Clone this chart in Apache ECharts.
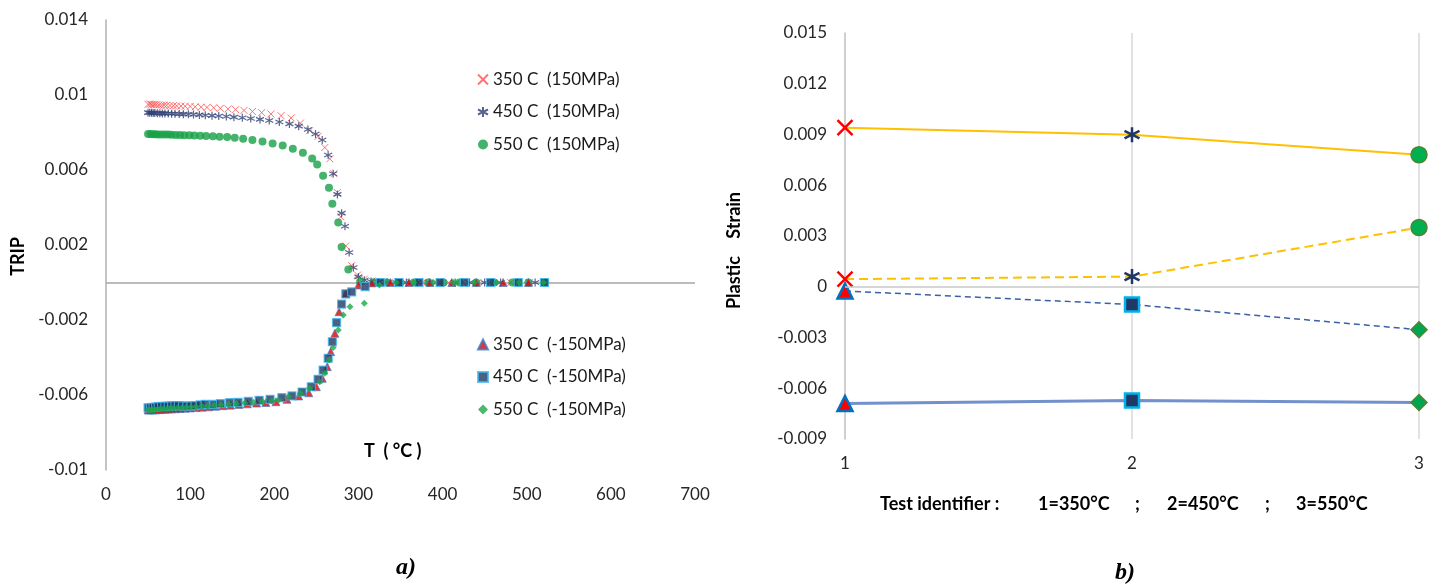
<!DOCTYPE html>
<html lang="en">
<head>
    <meta charset="utf-8"/>
    <script src="https://cdn.jsdelivr.net/npm/echarts@6/dist/echarts.min.js"></script>
</head>
<body style="margin: 0; background: #fff">
<div id="container" style="width: 1434px; height: 586px;"></div>
<script type="text/javascript">
    // ---- a) TRIP vs temperature ----
    var xTicksA = [0, 700, 100];          // min, max, step
    var yTicksA = [-0.01, 0.014, 0.004];

    var t350p = [50, 52, 54, 56, 58, 60, 63, 66, 69, 72, 76, 80, 84, 89, 94, 100, 106, 113, 120, 128,
        136, 145, 154, 164, 174, 185, 196, 208, 220, 231, 242, 252, 260, 266, 271, 275, 279, 285, 292, 299,
        307, 316, 326, 337, 349, 362, 376, 391, 407, 424, 442, 461, 481, 503];
    var trip350p = [0.0095, 0.00952, 0.0095, 0.00949, 0.0095, 0.00948, 0.00947, 0.00946, 0.00946, 0.00945,
        0.00944, 0.00943, 0.00942, 0.00941, 0.0094, 0.00939, 0.00937, 0.00935, 0.00934, 0.00932,
        0.00929, 0.00926, 0.00922, 0.00918, 0.00912, 0.00906, 0.00899, 0.0089, 0.00878, 0.0085,
        0.0081, 0.0078, 0.0072, 0.0066, 0.0058, 0.0048, 0.0035, 0.00195, 0.0009, 0.0004,
        0.00018, 0.00008, 0.00004, 0.00002, 0.00001, 0, 0, 0, 0, 0, 0, 0, 0, 0];

    var t450p = [50, 52, 54, 56, 58, 61, 64, 67, 70, 74, 78, 82, 87, 92, 98, 104, 111, 118, 126, 134,
        143, 152, 162, 172, 183, 194, 206, 218, 229, 240, 249, 257, 264, 270, 275, 280, 284, 289, 294, 300,
        307, 315, 324, 334, 345, 357, 370, 384, 399, 415, 432, 450, 469, 489, 510];
    var trip450p = [0.00906, 0.00905, 0.00905, 0.00904, 0.00904, 0.00903, 0.00903, 0.00902, 0.00902, 0.00901,
        0.009, 0.009, 0.00899, 0.00898, 0.00897, 0.00896, 0.00894, 0.00892, 0.0089, 0.00888,
        0.00885, 0.00882, 0.00879, 0.00875, 0.0087, 0.00864, 0.00856, 0.00846, 0.00834, 0.00816,
        0.00792, 0.0076, 0.0068, 0.0058, 0.0047, 0.0037, 0.003, 0.0016, 0.0008, 0.0003,
        0.00012, 0.00005, 0.00002, 0.00001, 0, 0, 0, 0, 0, 0, 0, 0, 0, 0, 0];

    var t550p = [50, 53, 56, 59, 62, 66, 70, 74, 78, 83, 88, 93, 99, 105, 112, 119, 127, 135, 144, 153,
        163, 174, 186, 198, 210, 222, 234, 245, 251, 258, 265, 269, 276, 280, 288, 302, 318, 334, 350, 366,
        383, 401, 420, 440, 461, 483, 502, 522];
    var trip550p = [0.00792, 0.00792, 0.00791, 0.00791, 0.0079, 0.0079, 0.00789, 0.00789, 0.00788, 0.00787,
        0.00787, 0.00786, 0.00785, 0.00784, 0.00783, 0.00782, 0.0078, 0.00778, 0.00776, 0.00772,
        0.00767, 0.0076, 0.00752, 0.00742, 0.00731, 0.00714, 0.00692, 0.00662, 0.0063, 0.0057,
        0.00506, 0.0042, 0.0032, 0.0019, 0.0007, 0.00004, 0.00001, 0, 0, 0,
        0, 0, 0, 0, 0, 0, 0, 0];

    var t350n = [50, 53, 56, 59, 62, 66, 70, 74, 78, 83, 88, 94, 100, 107, 114, 122, 130, 139, 148, 158,
        168, 179, 190, 202, 215, 229, 241, 250, 257, 263, 267, 272, 277, 285, 300, 316, 338, 360, 385, 411,
        440, 472, 502];
    var trip350n = [-0.0068, -0.0068, -0.00679, -0.00679, -0.00678, -0.00677, -0.00676, -0.00675, -0.00674, -0.00673,
        -0.00672, -0.0067, -0.00669, -0.00667, -0.00665, -0.00663, -0.0066, -0.00657, -0.00654, -0.0065,
        -0.00647, -0.00643, -0.0064, -0.00636, -0.00623, -0.00605, -0.00588, -0.00556, -0.00511, -0.00449,
        -0.00369, -0.00271, -0.00156, -0.00061, -0.00013, -0.00002, 0, 0, 0, 0,
        0, 0, 0];

    var t450n = [50, 53, 56, 59, 62, 66, 70, 74, 78, 82, 86, 91, 96, 101, 106, 112, 118, 128, 136, 147,
        157, 169, 182, 195, 209, 221, 233, 244, 252, 258, 264, 269, 274, 280, 285, 292, 308, 326, 348, 372,
        397, 426, 457, 490, 521];
    var trip450n = [-0.00668, -0.00667, -0.00666, -0.00665, -0.00662, -0.00661, -0.0066, -0.00659, -0.00658, -0.00657,
        -0.00657, -0.00658, -0.00659, -0.00658, -0.00657, -0.00653, -0.0065, -0.0065, -0.00646, -0.00641,
        -0.00639, -0.00634, -0.00628, -0.00623, -0.00614, -0.00605, -0.00584, -0.00556, -0.00516, -0.00467,
        -0.00404, -0.00316, -0.00214, -0.00115, -0.0006, -0.0005, -0.00022, 0, 0, 0,
        0, 0, 0, 0, 0];

    var t550n = [50, 52, 55, 58, 61, 64, 68, 72, 76, 80, 85, 90, 95, 101, 107, 114, 121, 129, 137, 146,
        155, 165, 175, 186, 197, 205, 217, 231, 242, 254, 260, 265, 270, 276, 282, 290, 307, 325, 345, 366,
        389, 413, 438, 464, 491, 520];
    var trip550n = [-0.0068, -0.0068, -0.00679, -0.00678, -0.00677, -0.00676, -0.00675, -0.00674, -0.00672, -0.00671,
        -0.00669, -0.00668, -0.00666, -0.00664, -0.00662, -0.0066, -0.00658, -0.00655, -0.00652, -0.00649,
        -0.00646, -0.00642, -0.00639, -0.00635, -0.0063, -0.00627, -0.00609, -0.00591, -0.00564, -0.00529,
        -0.00484, -0.00413, -0.00346, -0.00253, -0.00173, -0.00129, -0.0011, -0.00013, 0, 0,
        0, 0, 0, 0, 0, 0];

    var namesA = ['350 C  (150MPa)', '450 C  (150MPa)', '550 C  (150MPa)',
        '350 C  (-150MPa)', '450 C  (-150MPa)', '550 C  (-150MPa)'];

    // ---- b) plastic strain per test ----
    var testIds = [1, 2, 3];
    var xTicksB = [1, 3, 1];
    var yTicksB = [-0.009, 0.015, 0.003];
    var strainTop = [0.0094, 0.00899, 0.0078];
    var strainTopDash = [0.00045, 0.0006, 0.0035];
    var strainLowDash = [-0.00025, -0.00105, -0.00254];
    var strainLow = [-0.0069, -0.00672, -0.00684];

    var xPath = 'path://M0,0L10,10M10,0L0,10';
    var starPath = 'path://M5,0L5,10M0,2.5L10,7.5M0,7.5L10,2.5';
    var font = 'Lato, "Liberation Sans", sans-serif';

    function pairs(ts, vs) {
        return ts.map(function (t, i) { return [t, vs[i]]; });
    }

    var posMarks = [
        {symbol: xPath, symbolSize: 15, itemStyle: {color: '#FF0000', borderColor: '#FF0000', borderWidth: 2.5}},
        {symbol: starPath, symbolSize: 15, itemStyle: {color: '#1F3864', borderColor: '#1F3864', borderWidth: 2.5}},
        {symbol: 'circle', symbolSize: 16, itemStyle: {color: '#00B050', borderColor: '#548235', borderWidth: 1.5}}
    ];
    var negMarks = [
        {symbol: 'triangle', symbolSize: 15, itemStyle: {color: '#FF0000', borderColor: '#0070C0', borderWidth: 2.5}},
        {symbol: 'rect', symbolSize: 14, itemStyle: {color: '#1F3864', borderColor: '#00B0F0', borderWidth: 2.5}},
        {symbol: 'diamond', symbolSize: 16, itemStyle: {color: '#00A64F', borderColor: '#548235', borderWidth: 1.5}}
    ];

    function marked(vals, marks) {
        return vals.map(function (v, i) {
            return Object.assign({value: [testIds[i], v]}, marks[i]);
        });
    }

    var myChart = echarts.init(document.getElementById('container'));

    var axisLabelStyle = {fontFamily: font, fontSize: 17, color: '#262626'};
    var legendText = {fontFamily: font, fontSize: 17, color: '#1a1a1a'};
    var boldFont = 'bold 18px ' + font;

    var option = {
        backgroundColor: '#fff',
        animation: false,
        grid: [
            {left: 106, right: 739, top: 20, bottom: 116},
            {left: 845, right: 15, top: 33, bottom: 147}
        ],
        legend: [
            {
                data: namesA.slice(0, 3), orient: 'vertical', left: 472, top: 66,
                itemWidth: 10, itemHeight: 10, itemGap: 15.5, textStyle: legendText
            },
            {
                data: namesA.slice(3), orient: 'vertical', left: 472, top: 331,
                itemWidth: 10, itemHeight: 10, itemGap: 15.5, textStyle: legendText
            }
        ],
        xAxis: [
            {
                gridIndex: 0, type: 'value', min: xTicksA[0], max: xTicksA[1], interval: xTicksA[2],
                axisLine: {show: false}, axisTick: {show: false}, splitLine: {show: false},
                axisLabel: Object.assign({margin: 16}, axisLabelStyle)
            },
            {
                gridIndex: 1, type: 'value', min: xTicksB[0], max: xTicksB[1], interval: xTicksB[2],
                axisLine: {show: false}, axisTick: {show: false},
                splitLine: {show: true, lineStyle: {color: '#D9D9D9', width: 1.5}},
                axisLabel: Object.assign({margin: 16}, axisLabelStyle)
            }
        ],
        yAxis: [
            {
                gridIndex: 0, type: 'value', min: yTicksA[0], max: yTicksA[1], interval: yTicksA[2],
                axisLine: {show: true, onZero: false, lineStyle: {color: '#B0B0B0', width: 1.5}},
                axisTick: {show: false}, splitLine: {show: false},
                axisLabel: Object.assign({margin: 18}, axisLabelStyle)
            },
            {
                gridIndex: 1, type: 'value', min: yTicksB[0], max: yTicksB[1], interval: yTicksB[2],
                axisLine: {show: true, onZero: false, lineStyle: {color: '#C8C8C8', width: 1.5}},
                axisTick: {show: false}, splitLine: {show: false},
                axisLabel: Object.assign({margin: 18}, axisLabelStyle)
            }
        ],
        graphic: [
            {type: 'text', left: 9, top: 237, rotation: Math.PI / 2,
                style: {text: 'TRIP', font: boldFont, fill: '#000'}},
            {type: 'text', left: 364, top: 442,
                style: {text: 'T  ( °C )', font: boldFont, fill: '#000'}},
            {type: 'text', left: 725, top: 192, rotation: Math.PI / 2,
                style: {text: 'Plastic    Strain', font: boldFont, fill: '#000'}},
            {type: 'text', left: 880, top: 495,
                style: {text: 'Test identifier :', font: boldFont, fill: '#000'}},
            {type: 'text', left: 1038, top: 495,
                style: {text: '1=350°C', font: boldFont, fill: '#000'}},
            {type: 'text', left: 1135, top: 495,
                style: {text: ';', font: boldFont, fill: '#000'}},
            {type: 'text', left: 1167, top: 495,
                style: {text: '2=450°C', font: boldFont, fill: '#000'}},
            {type: 'text', left: 1265, top: 495,
                style: {text: ';', font: boldFont, fill: '#000'}},
            {type: 'text', left: 1296, top: 495,
                style: {text: '3=550°C', font: boldFont, fill: '#000'}},
            {type: 'text', left: 396, top: 556,
                style: {text: 'a)', font: 'italic bold 24px "Liberation Serif", serif', fill: '#000'}},
            {type: 'text', left: 1115, top: 561,
                style: {text: 'b)', font: 'italic bold 24px "Liberation Serif", serif', fill: '#000'}}
        ],
        series: [
            {
                name: namesA[0], type: 'scatter', xAxisIndex: 0, yAxisIndex: 0, z: 2,
                symbol: xPath, symbolSize: 7,
                itemStyle: {color: '#FF5050', borderColor: '#FF5050', borderWidth: 1},
                data: pairs(t350p, trip350p),
                markLine: {
                    silent: true, symbol: 'none', label: {show: false}, z: 1,
                    lineStyle: {color: '#A6A6A6', type: 'solid', width: 1.5},
                    data: [{yAxis: 0}]
                }
            },
            {
                name: namesA[1], type: 'scatter', xAxisIndex: 0, yAxisIndex: 0, z: 3,
                symbol: starPath, symbolSize: 8,
                itemStyle: {color: '#2E3F74', borderColor: '#2E3F74', borderWidth: 1.2},
                data: pairs(t450p, trip450p)
            },
            {
                name: namesA[2], type: 'scatter', xAxisIndex: 0, yAxisIndex: 0, z: 3,
                symbol: 'circle', symbolSize: 8,
                itemStyle: {color: '#16A046'},
                data: pairs(t550p, trip550p)
            },
            {
                name: namesA[3], type: 'scatter', xAxisIndex: 0, yAxisIndex: 0, z: 3,
                symbol: 'triangle', symbolSize: 8,
                itemStyle: {color: '#E00000', borderColor: '#3A7CC8', borderWidth: 0.8},
                data: pairs(t350n, trip350n)
            },
            {
                name: namesA[4], type: 'scatter', xAxisIndex: 0, yAxisIndex: 0, z: 3,
                symbol: 'rect', symbolSize: 8,
                itemStyle: {color: '#1F3864', borderColor: '#3DB8F0', borderWidth: 1.2},
                data: pairs(t450n, trip450n)
            },
            {
                name: namesA[5], type: 'scatter', xAxisIndex: 0, yAxisIndex: 0, z: 3,
                symbol: 'diamond', symbolSize: 7,
                itemStyle: {color: '#1BA84C'},
                data: pairs(t550n, trip550n)
            },
            {
                name: 'top', type: 'line', xAxisIndex: 1, yAxisIndex: 1, z: 3,
                lineStyle: {color: '#FFC000', width: 2},
                data: marked(strainTop, posMarks),
                markLine: {
                    silent: true, symbol: 'none', label: {show: false},
                    lineStyle: {color: '#C8C8C8', type: 'solid', width: 1.5},
                    data: [{yAxis: 0}]
                }
            },
            {
                name: 'top dashed', type: 'line', xAxisIndex: 1, yAxisIndex: 1, z: 3,
                lineStyle: {color: '#FFC000', width: 2, type: [9, 5]},
                data: marked(strainTopDash, posMarks)
            },
            {
                name: 'low dashed', type: 'line', xAxisIndex: 1, yAxisIndex: 1, z: 3,
                lineStyle: {color: '#3B5FA8', width: 1.5, type: [6, 4]},
                data: marked(strainLowDash, negMarks)
            },
            {
                name: 'low', type: 'line', xAxisIndex: 1, yAxisIndex: 1, z: 3,
                lineStyle: {color: '#7290CB', width: 3},
                data: marked(strainLow, negMarks)
            }
        ]
    };

    myChart.setOption(option);
</script>
</body>
</html>
